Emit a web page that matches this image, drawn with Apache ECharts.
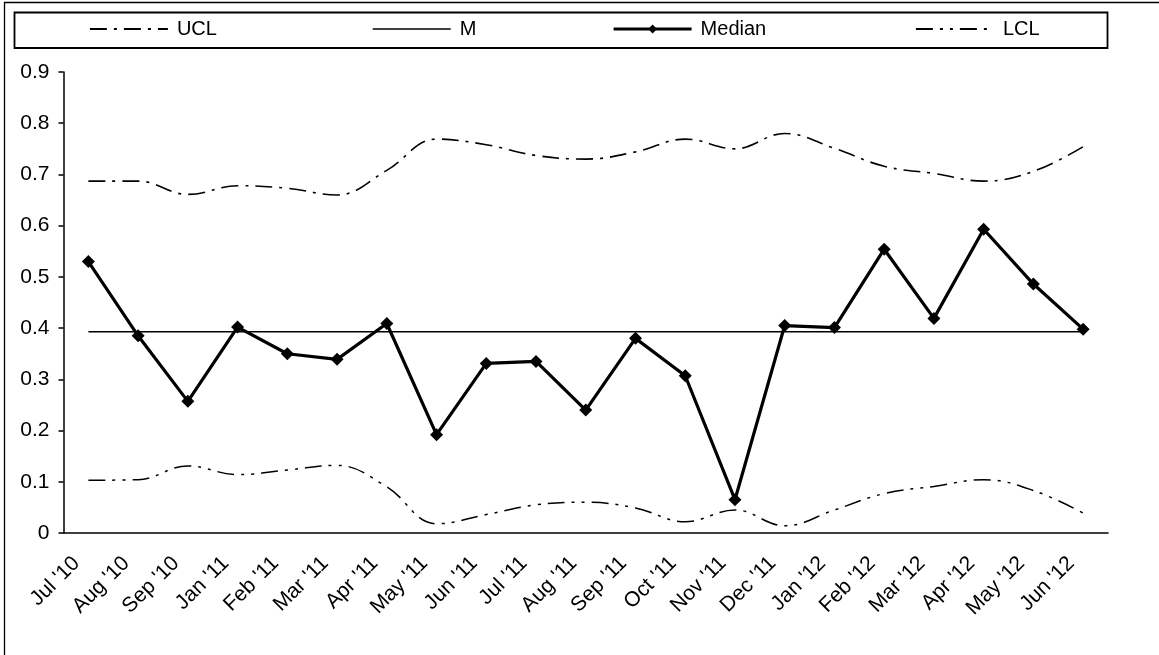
<!DOCTYPE html>
<html>
<head>
<meta charset="utf-8">
<script src="https://cdn.jsdelivr.net/npm/echarts@6/dist/echarts.min.js"></script>
<style>
html, body { margin: 0; padding: 0; background: #fff; }
#charts { width: 1159px; height: 655px; }
</style>
</head>
<body>
<div id="charts"></div>
<script>
var categories = ["Jul '10", "Aug '10", "Sep '10", "Jan '11", "Feb '11", "Mar '11", "Apr '11",
	"May '11", "Jun '11", "Jul '11", "Aug '11", "Sep '11", "Oct '11", "Nov '11",
	"Dec '11", "Jan '12", "Feb '12", "Mar '12", "Apr '12", "May '12", "Jun '12"];

var uclValues = [0.687, 0.687, 0.661, 0.678, 0.673, 0.660, 0.708, 0.769, 0.758, 0.737, 0.730,
	0.744, 0.769, 0.750, 0.780, 0.751, 0.716, 0.702, 0.687, 0.706, 0.754];

var mValues = [0.393, 0.393, 0.393, 0.393, 0.393, 0.393, 0.393, 0.393, 0.393, 0.393, 0.393,
	0.393, 0.393, 0.393, 0.393, 0.393, 0.393, 0.393, 0.393, 0.393, 0.393];

var medianValues = [0.530, 0.385, 0.257, 0.402, 0.350, 0.339, 0.409, 0.192, 0.331, 0.335, 0.240,
	0.380, 0.307, 0.065, 0.405, 0.401, 0.554, 0.419, 0.593, 0.486, 0.398];

var lclValues = [0.103, 0.104, 0.131, 0.114, 0.123, 0.132, 0.090, 0.018, 0.036, 0.055, 0.060,
	0.049, 0.022, 0.045, 0.014, 0.045, 0.077, 0.091, 0.104, 0.083, 0.039];

var yTicks = { min: 0, max: 0.9, interval: 0.1 };

var font = '"Liberation Sans", Arial, sans-serif';
var uclDash = [17, 7, 3, 7];
var lclDash = [17, 7, 3, 7, 3, 7];

// one legend per item so each sits in its own column like the original
function legendAt(name, left, lineWidth, markerOpacity){
	return {
		data: [name],
		left: left,
		top: 19,
		padding: 0,
		itemWidth: 78,
		itemHeight: 11,
		selectedMode: false,
		itemStyle: { opacity: markerOpacity },
		lineStyle: { width: lineWidth },
		textStyle: { color: '#000', fontSize: 20, fontFamily: font, padding: [0, 0, 0, 4] }
	};
}

var myChart = echarts.init(document.getElementById('charts'));

var option = {
	animation: false,
	backgroundColor: '#fff',
	textStyle: { fontFamily: font },
	graphic: [
		{ type: 'rect', shape: { x: 4.5, y: 2.5, width: 1170, height: 670 },
			style: { fill: 'none', stroke: '#000', lineWidth: 1.3 }, silent: true },
		{ type: 'rect', shape: { x: 14.5, y: 12.5, width: 1093, height: 35.5 },
			style: { fill: 'none', stroke: '#000', lineWidth: 1.8 }, silent: true }
	],
	legend: [
		legendAt('UCL', 89, 1.8, 0),
		legendAt('M', 372, 1.5, 0),
		legendAt('Median', 612, 3.2, 1),
		legendAt('LCL', 915, 1.8, 0)
	],
	grid: { left: 63.5, right: 51, top: 72, bottom: 122 },
	xAxis: {
		type: 'category',
		data: categories,
		boundaryGap: true,
		axisLine: { lineStyle: { color: '#000', width: 1.5 } },
		axisTick: { length: 5, lineStyle: { color: '#000', width: 1.5 } },
		axisLabel: { color: '#000', fontSize: 21, fontFamily: font, rotate: 45, margin: 15,
			interval: 0, padding: [0, 17, 0, 0] },
		splitLine: { show: false }
	},
	yAxis: {
		type: 'value',
		min: yTicks.min,
		max: yTicks.max,
		interval: yTicks.interval,
		axisLine: { show: true, lineStyle: { color: '#000', width: 1.5 } },
		axisTick: { show: true, length: 5, lineStyle: { color: '#000', width: 1.5 } },
		axisLabel: { color: '#000', fontSize: 21, fontFamily: font, margin: 14,
			formatter: function(v){ return v === 0 ? '0' : v.toFixed(1); } },
		splitLine: { show: false }
	},
	series: [
		{
			name: 'UCL', type: 'line', data: uclValues, smooth: 0.4,
			symbol: 'none', color: '#000',
			lineStyle: { color: '#000', width: 1.6, type: uclDash }
		},
		{
			name: 'M', type: 'line', data: mValues,
			symbol: 'none', color: '#000',
			lineStyle: { color: '#000', width: 1.5 }
		},
		{
			name: 'Median', type: 'line', data: medianValues,
			symbol: 'diamond', symbolSize: 13, showSymbol: true, color: '#000',
			itemStyle: { color: '#000' },
			lineStyle: { color: '#000', width: 3.2 }
		},
		{
			name: 'LCL', type: 'line', data: lclValues, smooth: 0.4,
			symbol: 'none', color: '#000',
			lineStyle: { color: '#000', width: 1.5, type: lclDash }
		}
	]
};

myChart.setOption(option);
</script>
</body>
</html>
